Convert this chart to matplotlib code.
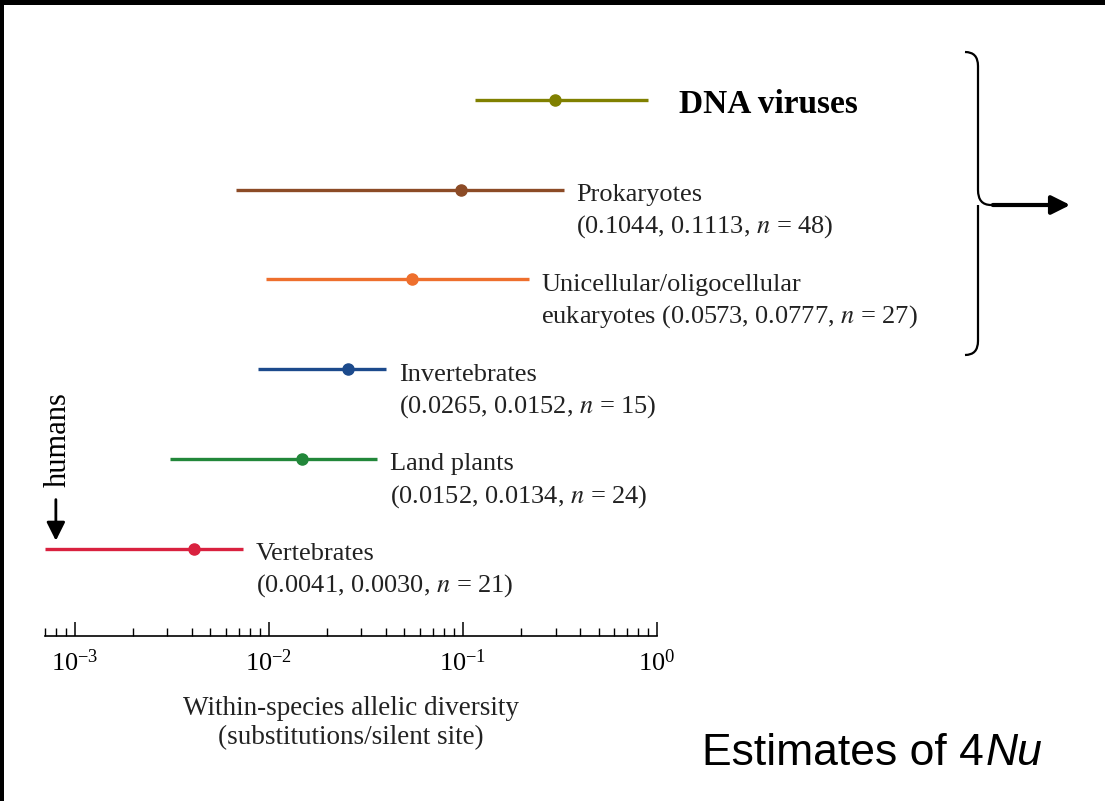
import matplotlib
matplotlib.use("Agg")
import matplotlib.pyplot as plt
from matplotlib.path import Path
from matplotlib.patches import PathPatch, Rectangle, FancyArrowPatch

plt.rcParams['font.family'] = ['Liberation Serif', 'DejaVu Serif']
plt.rcParams['mathtext.fontset'] = 'stix'

# bottom to top
groups = ['Vertebrates', 'Land plants', 'Invertebrates',
          'Unicellular/oligocellular', 'Prokaryotes', 'DNA viruses']
means = [0.0041, 0.0148, 0.0257, 0.0547, 0.0977, 0.297]
lows = [0.0007, 0.0031, 0.0088, 0.0097, 0.0068, 0.115]
highs = [0.0074, 0.0362, 0.0403, 0.218, 0.33, 0.90]
colors = ['#d9213f', '#22873a', '#1c4a8c', '#ee6f2d', '#8c4b26', '#808000']
second_lines = [
    '(0.0041, 0.0030, $n$ = 21)',
    '(0.0152, 0.0134, $n$ = 24)',
    '(0.0265, 0.0152, $n$ = 15)',
    'eukaryotes (0.0573, 0.0777, $n$ = 27)',
    '(0.1044, 0.1113, $n$ = 48)',
    None,
]
human = 0.0008

W, H = 1105, 801
fig = plt.figure(figsize=(W / 100, H / 100), dpi=100)

def fx(px):
    return px / W

def fy(py):
    return 1 - py / H

ax = fig.add_axes([fx(44.6), fy(636), fx(657) - fx(44.6), fy(55) - fy(636)])
ax.set_xscale('log')
ax.set_xlim(7e-4, 1.0)
ax.set_ylim(-0.97, 5.5)
for s in ['top', 'left', 'right']:
    ax.spines[s].set_visible(False)
ax.spines['bottom'].set_linewidth(1.2)
ax.set_yticks([])
ax.tick_params(axis='x', which='major', direction='in', length=10, width=1.1,
               labelsize=19, pad=10)
ax.tick_params(axis='x', which='minor', direction='in', length=6, width=1.0)
ax.set_xlabel('Within-species allelic diversity\n(substitutions/silent site)',
              fontsize=19.5, labelpad=14, color='#222222', linespacing=1.2)

for i, (g, m, lo, hi, c) in enumerate(zip(groups, means, lows, highs, colors)):
    ax.plot([lo, hi], [i, i], color=c, lw=2.4, solid_capstyle='butt',
            clip_on=False)
    ax.plot([m], [i], 'o', color=c, ms=8, clip_on=False)
    if second_lines[i] is None:
        ax.annotate(g, (hi, i), xytext=(22, -1), textcoords='offset points',
                    va='center_baseline', ha='left', fontsize=24,
                    fontweight='bold', annotation_clip=False)
    else:
        ax.annotate(g, (hi, i), xytext=(9, -2), textcoords='offset points',
                    va='center_baseline', ha='left', fontsize=19,
                    color='#222222', annotation_clip=False)
        ax.annotate(second_lines[i], (hi, i), xytext=(9, -24),
                    textcoords='offset points', va='center_baseline',
                    ha='left', fontsize=19, color='#222222',
                    annotation_clip=False)

# humans arrow
ax.annotate('', xy=(human, 0.06), xytext=(human, 0.58),
            arrowprops=dict(arrowstyle='-|>', color='black', lw=2,
                            mutation_scale=28), annotation_clip=False)
ax.annotate('humans', (human, 0.6), xytext=(2, 6), textcoords='offset points',
            rotation=90, ha='center', va='bottom', fontsize=22,
            annotation_clip=False)

# brace on the right
bx0, bx1, bx2 = fx(965), fx(978), fx(991)
verts = [
    (bx0, fy(52)), (bx1, fy(52)), (bx1, fy(66)),
    (bx1, fy(190)),
    (bx1, fy(205)), (bx2, fy(205)),
    (bx1, fy(205)), (bx1, fy(220)),
    (bx1, fy(341)),
    (bx1, fy(355)), (bx0, fy(355)),
]
codes = [Path.MOVETO, Path.CURVE3, Path.CURVE3, Path.LINETO,
         Path.CURVE3, Path.CURVE3, Path.MOVETO, Path.CURVE3,
         Path.LINETO, Path.CURVE3, Path.CURVE3]
fig.add_artist(PathPatch(Path(verts, codes), fill=False, lw=1.6,
                         edgecolor='black', transform=fig.transFigure))
fig.add_artist(FancyArrowPatch(
    (fx(990), fy(205)), (fx(1073), fy(205)), transform=fig.transFigure,
    arrowstyle='-|>', mutation_scale=28, lw=3.0, color='black'))

t1 = fig.text(fx(702), fy(765), 'Estimates of 4', fontsize=32,
              family='Liberation Sans', va='baseline', ha='left')
ax.annotate('Nu', xy=(1, 0), xycoords=t1, xytext=(1, 0),
            textcoords='offset points', fontsize=32, family='Liberation Sans',
            style='italic', va='bottom', ha='left', annotation_clip=False)

# black frame on top and left
fig.add_artist(Rectangle((0, fy(5)), 1, fy(0) - fy(5), transform=fig.transFigure,
                         color='black', lw=0))
fig.add_artist(Rectangle((0, 0), fx(4), 1, transform=fig.transFigure,
                         color='black', lw=0))

fig.savefig('out.png', dpi=100)
